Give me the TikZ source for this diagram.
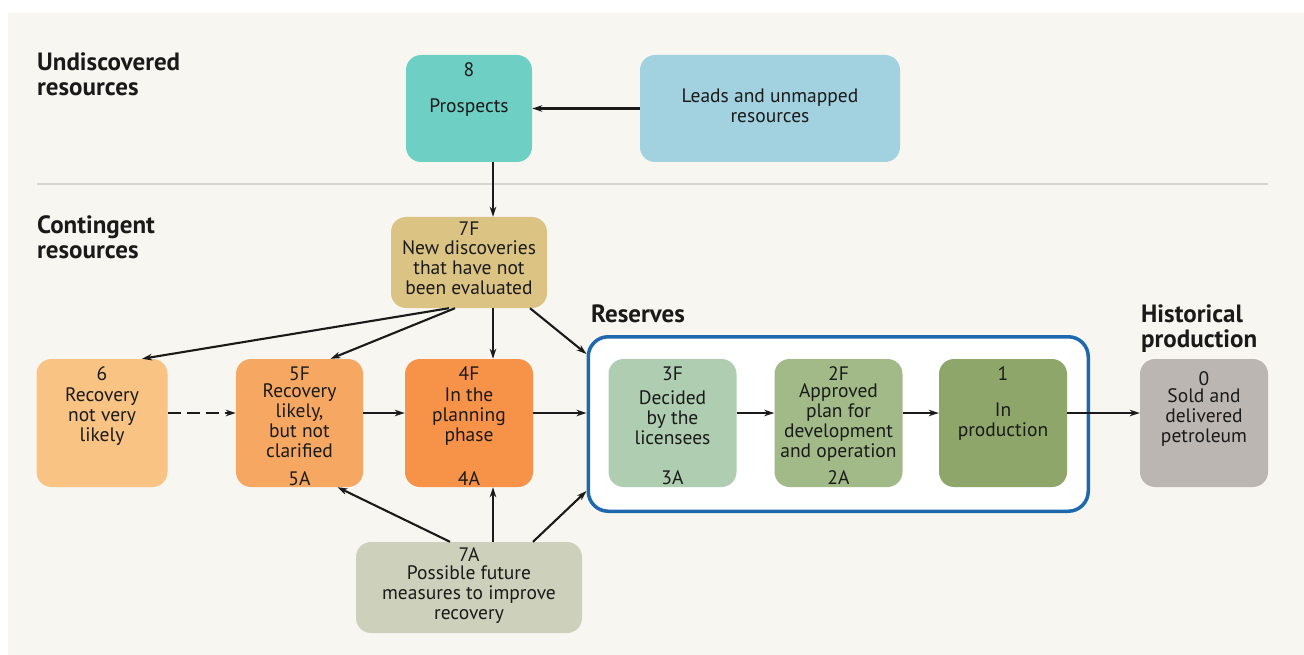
\documentclass[tikz,border=0pt]{standalone}
\usepackage{fontspec}
\setmainfont{PT Sans}
\usetikzlibrary{arrows.meta,calc}
\definecolor{cream}{HTML}{F8F6F0}
\definecolor{ink}{HTML}{1A1A1A}
\definecolor{sepgray}{HTML}{D8D6D0}
\definecolor{cteal}{HTML}{6ECFC5}
\definecolor{cleads}{HTML}{A2D2E0}
\definecolor{csevenF}{HTML}{DBC383}
\definecolor{csix}{HTML}{F8C383}
\definecolor{cfive}{HTML}{F6A862}
\definecolor{cfour}{HTML}{F79249}
\definecolor{cthree}{HTML}{AFCDB1}
\definecolor{ctwo}{HTML}{A2BA87}
\definecolor{cone}{HTML}{8FA66A}
\definecolor{czero}{HTML}{BBB6B2}
\definecolor{csevenA}{HTML}{CDD1BC}
\definecolor{resblue}{HTML}{1E69AD}
\newcommand\bxfont{\fontsize{19.5}{20}\selectfont}
\newcommand\hdfont{\fontsize{25}{25}\selectfont\bfseries}
\newcommand\fl{\rule{0pt}{16pt}}
\newcommand\hl{\rule{0pt}{20pt}}
\begin{document}
\begin{tikzpicture}[x=1pt,y=-1pt,
  box/.style={rounded corners=15pt, inner sep=0pt, minimum width=128pt, minimum height=128pt},
  num/.style={anchor=base, inner sep=0pt, font=\bxfont, text=ink},
  desc/.style={anchor=north, inner sep=0pt, align=center, font=\bxfont, text=ink},
  head/.style={anchor=north west, inner sep=0pt, align=left, font=\hdfont, text=ink},
  arr/.style={line width=2.1pt, draw=ink, -{Stealth[length=10pt,width=6.5pt,inset=3pt]}}]
\useasboundingbox (0,0) rectangle (1304,655);
\fill[white] (0,0) rectangle (1304,655);
\fill[cream] (8,13) rectangle (1304,655);
\draw[sepgray, line width=1.5pt] (37,184) -- (1268,184);

% headings
\node[head] (hU) at (37,50) {\hl Undiscovered\\resources};
\node[head] (hC) at (37,213) {\hl Contingent\\resources};
\node[head, anchor=base west] (hR) at (591,322) {Reserves};
\node[head] (hH) at (1141,302) {\hl Historical\\production};

% reserves frame
\node[draw=resblue, line width=3.5pt, fill=white, rounded corners=20pt, inner sep=0pt,
      minimum width=500pt, minimum height=174.5pt] (res) at (838.25,424) {};

% boxes
\node[box, fill=cteal, minimum width=126pt, minimum height=107pt] (b8) at (469,108.5) {};
\node[box, fill=cleads, minimum width=260pt, minimum height=107pt] (bL) at (770,108.5) {};
\node[box, fill=csevenF, minimum width=156pt, minimum height=91pt] (b7F) at (469,262.5) {};
\node[box, fill=csix, minimum width=131pt] (b6) at (102,423) {};
\node[box, fill=cfive, minimum width=127pt] (b5) at (299.5,423) {};
\node[box, fill=cfour] (b4) at (469,423) {};
\node[box, fill=cthree] (b3) at (672.5,423) {};
\node[box, fill=ctwo] (b2) at (838.5,423) {};
\node[box, fill=cone] (b1) at (1003,423) {};
\node[box, fill=czero] (b0) at (1204,423) {};
\node[box, fill=csevenA, minimum width=226pt, minimum height=91pt] (b7A) at (469,587.5) {};

% texts
\node[num] (n8) at (469,77) {8};
\node[desc] (d8) at (469,96) {\fl Prospects};
\node[desc] (dL) at (770,86) {\fl Leads and unmapped\\resources};
\node[num] (n7F) at (469,236) {7F};
\node[desc] (d7F) at (469,238) {\fl New discoveries\\that have not\\been evaluated};
\node[num] (n6) at (102,380) {6};
\node[desc] (d6) at (102,385) {\fl Recovery\\not very\\likely};
\node[num] (n5F) at (299.5,380) {5F};
\node[desc] (d5F) at (299.5,381) {\fl Recovery\\likely,\\but not\\clarified};
\node[num] (n5A) at (299.5,485) {5A};
\node[num] (n4F) at (469,380) {4F};
\node[desc] (d4F) at (469,385) {\fl In the\\planning\\phase};
\node[num] (n4A) at (469,485) {4A};
\node[num] (n3F) at (672.5,380) {3F};
\node[desc] (d3F) at (672.5,388) {\fl Decided\\by the\\licensees};
\node[num] (n3A) at (672.5,484) {3A};
\node[num] (n2F) at (838.5,380) {2F};
\node[desc] (d2F) at (838.5,381) {\fl Approved\\plan for\\development\\and operation};
\node[num] (n2A) at (838.5,484) {2A};
\node[num] (n1) at (1003,380) {1};
\node[desc] (d1) at (1003,400) {\fl In\\production};
\node[num] (n0) at (1204,385) {0};
\node[desc] (d0) at (1204,386) {\fl Sold and\\delivered\\petroleum};
\node[num] (n7A) at (469,561) {7A};
\node[desc] (d7A) at (469,563) {\fl Possible future\\measures to improve\\recovery};

% connectors
\draw[arr] (bL.west) -- (b8.east);
\draw[arr] ($(b8.south)+(24,0)$) -- ($(b7F.north)+(24,0)$);
\draw[arr] ($(b7F.south)+(-20,0)$) -- ($(b6.north)+(40,0)$);
\draw[arr] ($(b7F.south)+(-14,0)$) -- ($(b5.north)+(31,0)$);
\draw[arr] ($(b7F.south)+(24,0)$) -- ($(b4.north)+(24,0)$);
\draw[arr] ($(b7F.south)+(61,0)$) -- ($(res.west)+(0,-70)$);
\draw[arr, dash pattern=on 13pt off 6pt] ($(b6.east)+(0,-10)$) -- ($(b5.west)+(0,-10)$);
\draw[arr] ($(b5.east)+(0,-10)$) -- ($(b4.west)+(0,-10)$);
\draw[arr] ($(b4.east)+(0,-10)$) -- ($(res.west)+(0,-11)$);
\draw[arr] ($(b3.east)+(0,-10)$) -- ($(b2.west)+(0,-10)$);
\draw[arr] ($(b2.east)+(0,-10)$) -- ($(b1.west)+(0,-10)$);
\draw[arr] ($(b1.east)+(0,-10)$) -- ($(b0.west)+(0,-10)$);
\draw[arr] ($(b7A.north)+(-19,0)$) -- ($(b5.south)+(38,0)$);
\draw[arr] ($(b7A.north)+(24,0)$) -- ($(b4.south)+(24,0)$);
\draw[arr] ($(b7A.north)+(64,0)$) -- ($(res.west)+(0,67)$);
\end{tikzpicture}
\end{document}
